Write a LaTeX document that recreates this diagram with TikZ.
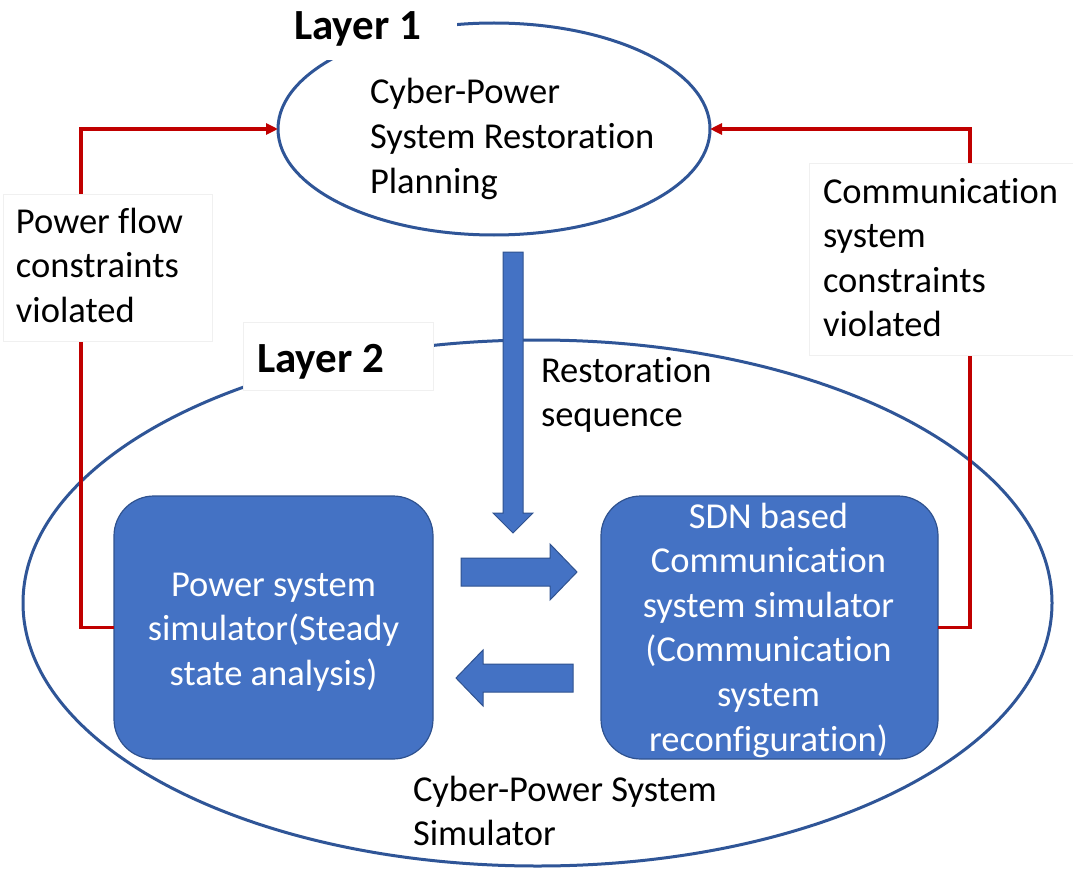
\documentclass[tikz,border=0pt]{standalone}
\usepackage{fontspec}
\setmainfont{Carlito}[RawFeature={-liga;-clig;-calt;-dlig}]
\usetikzlibrary{shapes.geometric,arrows.meta}
\definecolor{ellblue}{HTML}{2F5597}
\definecolor{boxblue}{HTML}{4472C4}
\definecolor{boxedge}{HTML}{2F528F}
\definecolor{redl}{HTML}{C00000}
\definecolor{faint}{HTML}{F0F0F0}
\newcommand{\nt}{t\kern0pt i}
\begin{document}
\begin{tikzpicture}[x=1pt,y=-1pt,
  layerell/.style={draw=ellblue, line width=3pt, ellipse, inner sep=0pt, outer sep=0pt},
  redline/.style={draw=redl, line width=3.5pt, -{Triangle[length=12pt,width=11pt]}},
  simbox/.style={fill=boxblue, draw=boxedge, line width=1.2pt, rounded corners=40pt,
    inner sep=0pt, outer sep=0pt, minimum width=#1, minimum height=263pt},
  blockarrow/.style={fill=boxblue, draw=boxedge, line width=1pt},
  whitebox/.style={fill=white, draw=faint, line width=0.8pt},
  txt/.style={font=\fontsize{36.5}{44.6}\selectfont, inner sep=0pt, outer sep=0pt, align=left, anchor=north west},
  ctxt/.style={txt, align=center, anchor=north, text=white},
  layertxt/.style={font=\fontsize{43}{50}\selectfont\bfseries, inner sep=0pt, anchor=base west}
]
\useasboundingbox[fill=white] (0,0) rectangle (1073,869);

% layer ellipses
\node[layerell, minimum width=432pt, minimum height=212pt] (plan) at (494,129) {};
\node[layerell, minimum width=1029pt, minimum height=526pt] (sim) at (537.5,603) {};

% simulator boxes
\node[simbox=319pt] (ps) at (273.5,627.5) {};
\node[simbox=337pt] (sdn) at (769.5,627.5) {};

% feedback connectors
\draw[redline] (ps.west) -- ++(-33,0) |- (plan.west);
\draw[redline] (sdn.east) -- ++(32,0) |- (plan.east);

% white label backgrounds
\fill[white] (280,0) rectangle (457,60);
\draw[whitebox] (243,322) rectangle (433,390);
\draw[whitebox] (3,194) rectangle (212,341);
\draw[whitebox] (809,163) rectangle (1075,355);

% block arrows
\draw[blockarrow] (503,252) -- (523,252) -- (523,513) -- (533,513) -- (513,533)
  -- (493,513) -- (503,513) -- cycle;
\draw[blockarrow] (461,558) -- (550,558) -- (550,544) -- (577,572) -- (550,600)
  -- (550,586) -- (461,586) -- cycle;
\draw[blockarrow] (573,664) -- (483,664) -- (483,650) -- (456,678) -- (483,706)
  -- (483,692) -- (573,692) -- cycle;

% texts
\node[layertxt] (l1) at (294,40) {Layer 1};
\node[layertxt] (l2) at (257,372) {Layer 2};
\node[txt] (plantext) at (370,74) {\rule{0pt}{30pt}Cyber-Power\\System Restora\nt on\\Planning};
\node[txt] (seqtext) at (541,352) {\rule{0pt}{30pt}Restora\nt on\\sequence};
\node[txt] (pftext) at (16,203) {\rule{0pt}{30pt}Power flow\\constraints\\violated};
\node[txt] (cstext) at (823,173) {\rule{0pt}{30pt}Communica\nt on\\system\\constraints\\violated};
\node[ctxt] (pstext) at (273.5,566) {\rule{0pt}{30pt}Power system\\simulator(Steady\\state analysis)};
\node[ctxt] (sdntext) at (768.5,498) {\rule{0pt}{30pt}SDN based\\Communica\nt on\\system simulator\\(Communica\nt on\\system\\reconfigura\nt on)};
\node[txt] (cpstext) at (413,771) {\rule{0pt}{30pt}Cyber-Power System\\Simulator};
\end{tikzpicture}
\end{document}
